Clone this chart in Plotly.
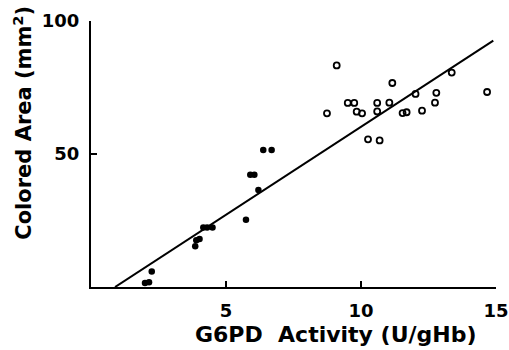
import plotly.graph_objects as go

# Filled circles (lower activity group)
filled_x = [2.0, 2.15, 2.25, 3.86, 3.9, 4.02, 4.16, 4.3, 4.5, 5.74, 5.9, 6.05, 6.2, 6.38, 6.69]
filled_y = [1.5, 1.8, 5.8, 15.3, 17.6, 18.0, 22.4, 22.4, 22.4, 25.3, 42.2, 42.2, 36.5, 51.5, 51.5]

# Open circles (higher activity group)
open_x = [8.74, 9.1, 9.51, 9.75, 9.84, 10.04, 10.26, 10.6, 10.6, 10.69, 11.05, 11.16,
          11.54, 11.69, 12.02, 12.26, 12.74, 12.79, 13.36, 14.67]
open_y = [65.3, 83.3, 69.2, 69.2, 65.9, 65.3, 55.5, 69.2, 66.0, 55.1, 69.3, 76.7,
          65.4, 65.7, 72.6, 66.3, 69.3, 73.0, 80.6, 73.3]

# Regression line
fit_slope = 6.61
fit_intercept = -5.9
fit_x = [0.89, 14.9]
fit_y = [fit_slope * v + fit_intercept for v in fit_x]

x_ticks = [5, 10, 15]
y_ticks = [50, 100]

FONT = "DejaVu Sans"

fig = go.Figure()
fig.add_trace(go.Scatter(x=fit_x, y=fit_y, mode="lines",
                         line=dict(color="black", width=2), showlegend=False))
fig.add_trace(go.Scatter(x=filled_x, y=filled_y, mode="markers",
                         marker=dict(symbol="circle", size=6.5, color="black"),
                         showlegend=False))
fig.add_trace(go.Scatter(x=open_x, y=open_y, mode="markers",
                         marker=dict(symbol="circle-open", size=6, color="black",
                                     line=dict(width=1.8, color="black")),
                         showlegend=False))

fig.update_layout(
    width=509, height=350,
    margin=dict(l=91, r=13, t=21, b=63),
    paper_bgcolor="white", plot_bgcolor="white",
    font=dict(family=FONT, color="black"),
    xaxis=dict(range=[0, 15], tickvals=x_ticks, ticktext=[str(v) for v in x_ticks],
               showline=True, linecolor="black", linewidth=2,
               ticks="inside", ticklen=6, tickwidth=2, tickcolor="black",
               showgrid=False, zeroline=False, automargin=False,
               tickfont=dict(family=FONT, size=18, color="black", weight="bold"),
               ticklabelstandoff=6),
    yaxis=dict(range=[0, 100], tickvals=y_ticks, ticktext=[str(v) for v in y_ticks],
               showline=True, linecolor="black", linewidth=2,
               ticks="inside", ticklen=6, tickwidth=2, tickcolor="black",
               showgrid=False, zeroline=False, automargin=False,
               tickfont=dict(family=FONT, size=18, color="black", weight="bold"),
               ticklabelstandoff=6),
    annotations=[
        dict(text="G6PD  Activity (U/gHb)", xref="paper", yref="paper",
             x=0.606, y=-0.18, xanchor="center", yanchor="middle", showarrow=False,
             font=dict(family=FONT, size=22, color="black", weight="bold")),
        dict(text="Colored Area (mm<sup>2</sup>)", xref="paper", yref="paper",
             x=-0.17, y=0.618, xanchor="center", yanchor="middle", showarrow=False,
             textangle=-90,
             font=dict(family=FONT, size=21, color="black", weight="bold")),
    ],
)

fig.write_html("out.html", config={"displayModeBar": False},
               post_script="document.body.style.margin='0px';document.body.style.overflow='hidden';")
